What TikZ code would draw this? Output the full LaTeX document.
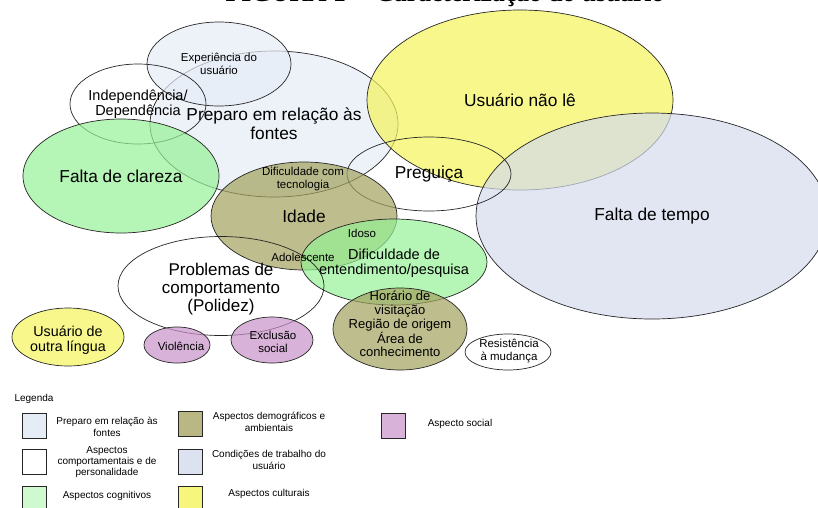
\documentclass[tikz,border=0pt]{standalone}
\usepackage{fontspec}
\setmainfont{Liberation Sans}
\newfontfamily\titfont{Liberation Serif}
\usepackage{tikz}
\usetikzlibrary{shapes.geometric}
\definecolor{azul}{HTML}{E6ECF6}
\definecolor{cinza}{HTML}{D4DBEC}
\definecolor{amarelo}{HTML}{F4F45B}
\definecolor{verde}{HTML}{95F195}
\definecolor{oliva}{HTML}{A2A15C}
\definecolor{roxo}{HTML}{C791C7}
\tikzstyle{bola}=[ellipse, draw=black!85, line width=0.7pt, inner sep=0pt, fill opacity=0.7]
\tikzstyle{grande}=[align=center, font=\fontsize{17.3}{19}\selectfont]
\tikzstyle{medio}=[align=center, font=\fontsize{14.5}{15.5}\selectfont]
\tikzstyle{pequeno}=[align=center, font=\fontsize{11.5}{12.8}\selectfont]
\tikzstyle{leg}=[align=center, font=\fontsize{10}{11.3}\selectfont]
\tikzstyle{caixa}=[rectangle, draw=black!85, line width=0.7pt, minimum width=24pt, minimum height=25pt, inner sep=0pt]

\begin{document}
\begin{tikzpicture}[x=1pt, y=-1pt]
			\clip (0,0) rectangle (818,507);
			\node[anchor=base, font=\titfont\fontsize{25.6}{28}\bfseries] (tit) at (445,1.5) {FIGURA 1 -- Caracterização do usuário};
			% circulos
			\node[bola, fill=azul, minimum width=248pt, minimum height=146pt] (prep) at (274,124) {};
			\node[bola, fill=azul, minimum width=144pt, minimum height=84pt] (exp) at (219,64) {};
			\node[bola, minimum width=136pt, minimum height=80pt] (indep) at (138,104) {};
			\node[bola, fill=verde, minimum width=196pt, minimum height=114pt] (clar) at (121,176) {};
			\node[bola, fill=amarelo, minimum width=306pt, minimum height=180pt] (nle) at (520,100) {};
			\node[bola, fill=cinza, minimum width=352pt, minimum height=206pt] (tempo) at (652,216) {};
			\node[bola, minimum width=164pt, minimum height=74pt] (preg) at (429,174) {};
			\node[bola, fill=oliva, minimum width=186pt, minimum height=108pt] (idade) at (304,216) {};
			\node[bola, fill=verde, minimum width=186pt, minimum height=86pt] (entend) at (394,262) {};
			\node[bola, minimum width=206pt, minimum height=99pt] (prob) at (221,286) {};
			\node[bola, fill=oliva, minimum width=134pt, minimum height=82pt] (hor) at (400,329) {};
			\node[bola, fill=amarelo, minimum width=112pt, minimum height=58pt] (lingua) at (68,337) {};
			\node[bola, fill=roxo, minimum width=66pt, minimum height=36pt] (viol) at (177,345) {};
			\node[bola, fill=roxo, minimum width=82pt, minimum height=46pt] (excl) at (272,340) {};
			\node[bola, minimum width=86pt, minimum height=36pt] (resist) at (508,352) {};
			% textos
			\node[grande] (prep-t) at (prep) {Preparo em relação às\\fontes};
			\node[pequeno] (exp-t) at (exp) {Experiência do\\usuário};
			\node[medio] (indep-t) at (indep) {Independência/\\Dependência};
			\node[grande] (clar-t) at (clar) {Falta de clareza};
			\node[grande] (nle-t) at (nle) {Usuário não lê};
			\node[grande] (tempo-t) at (tempo) {Falta de tempo};
			\node[grande] (preg-t) at (preg) {Preguiça};
			\node[grande] (idade-t) at (idade) {Idade};
			\node[pequeno] (tec) at (303,179) {Dificuldade com\\tecnologia};
			\node[pequeno] (idoso) at (362,233) {Idoso};
			\node[pequeno] (adol) at (303,257) {Adolescente};
			\node[medio] (entend-t) at (394,263) {Dificuldade de\\entendimento/pesquisa};
			\node[grande, font=\fontsize{17}{18.2}\selectfont] (prob-t) at (221,289) {Problemas de\\comportamento\\(Polidez)};
			\node[medio, font=\fontsize{13}{13.6}\selectfont] (hor-t) at (400,324) {Horário de\\visitação\\Região de origem\\Área de\\conhecimento};
			\node[medio, font=\fontsize{14.3}{14.5}\selectfont] (lingua-t) at (68,340) {Usuário de\\outra língua};
			\node[pequeno] (viol-t) at (181,346) {Violência};
			\node[pequeno] (excl-t) at (273,342) {Exclusão\\social};
			\node[pequeno] (resist-t) at (509,351) {Resistência\\à mudança};
			% legenda
			\node[leg] (legenda) at (34,399) {Legenda};
			\node[caixa, fill=azul] (c1) at (34,426) {};
			\node[caixa, fill=white] (c2) at (34,462) {};
			\node[caixa, fill=verde!45] (c3) at (34,499) {};
			\node[caixa, fill=oliva!75] (c4) at (190,424) {};
			\node[caixa, fill=cinza!80] (c5) at (190,462) {};
			\node[caixa, fill=amarelo!80] (c6) at (190,499) {};
			\node[caixa, fill=roxo!70] (c7) at (393,426) {};
			\node[leg] (t1) at (107,427) {Preparo em relação às\\fontes};
			\node[leg] (t2) at (107,462) {Aspectos\\comportamentais e de\\personalidade};
			\node[leg] (t3) at (107,496) {Aspectos cognitivos};
			\node[leg] (t4) at (269,422) {Aspectos demográficos e\\ambientais};
			\node[leg] (t5) at (269,460) {Condições de trabalho do\\usuário};
			\node[leg] (t6) at (269,494) {Aspectos culturais};
			\node[leg] (t7) at (460,424) {Aspecto social};
		\end{tikzpicture}
\end{document}
